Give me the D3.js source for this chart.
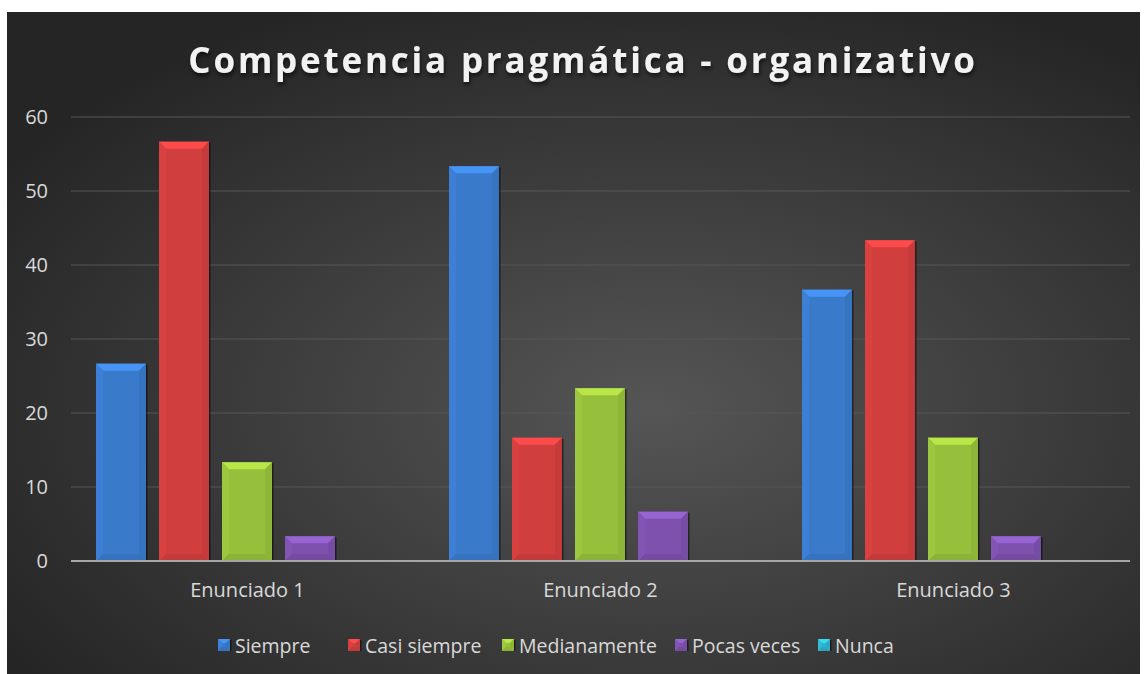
<!DOCTYPE html>
<html>
<head>
<meta charset="utf-8">
<script src="https://cdn.jsdelivr.net/npm/d3@7"></script>
<style>
  body { margin: 0; background: #fff; }
  svg { display: block; }
</style>
</head>
<body>
<svg id="chart" width="1145" height="674"></svg>
<script>
// chart data
const categories = ['Enunciado 1', 'Enunciado 2', 'Enunciado 3'];
const seriesNames = ['Siempre', 'Casi siempre', 'Medianamente', 'Pocas veces', 'Nunca'];
const siempre = [26.67, 53.33, 36.67];
const casiSiempre = [56.67, 16.67, 43.33];
const medianamente = [13.33, 23.33, 16.67];
const pocasVeces = [3.33, 6.67, 3.33];
const nunca = [0, 0, 0];
const yTicks = [0, 10, 20, 30, 40, 50, 60];

const seriesValues = [siempre, casiSiempre, medianamente, pocasVeces, nunca];
const colors = ['#3a7acb', '#d03e3e', '#96bf3b', '#7d51ad', '#2fb3cc'];

const box = { x: 7, y: 12, w: 1133, h: 662 };
const plot = { left: 71, right: 1130, top: 117, bottom: 561 };
const font = 'Open Sans, sans-serif';

const svg = d3.select('#chart');
const defs = svg.append('defs');

// background gradient
const bg = defs.append('radialGradient').attr('id', 'bg')
    .attr('cx', '57%').attr('cy', '60%').attr('r', '68%');
bg.append('stop').attr('offset', '0%').attr('stop-color', '#555');
bg.append('stop').attr('offset', '100%').attr('stop-color', '#252525');

const sh = defs.append('filter').attr('id', 'tshadow')
    .attr('x', '-5%').attr('y', '-20%').attr('width', '110%').attr('height', '150%');
sh.append('feDropShadow').attr('dx', 1).attr('dy', 3).attr('stdDeviation', 2)
    .attr('flood-color', '#000').attr('flood-opacity', 0.6);

svg.append('rect').attr('x', box.x).attr('y', box.y)
    .attr('width', box.w).attr('height', box.h).attr('fill', 'url(#bg)');

svg.append('text')
    .attr('x', 583).attr('y', 73)
    .attr('text-anchor', 'middle')
    .attr('font-family', font)
    .attr('font-weight', 'bold')
    .attr('font-size', 35)
    .attr('letter-spacing', 2.8)
    .attr('fill', '#f2f2f2')
    .attr('filter', 'url(#tshadow)')
    .text('Competencia pragmática - organizativo');

// scales
const x0 = d3.scaleBand().domain(categories).range([plot.left, plot.right]).padding(0);
const y = d3.scaleLinear().domain([0, 60]).range([plot.bottom, plot.top]);
const bandPad = 25, slot = 63, barW = 50;

// gridlines
svg.append('g').selectAll('line')
    .data(yTicks.filter(d => d > 0))
    .join('line')
    .attr('x1', plot.left).attr('x2', plot.right)
    .attr('y1', d => y(d)).attr('y2', d => y(d))
    .attr('stroke', '#575757').attr('stroke-width', 1.2);

// y axis labels
const yAxis = svg.append('g')
    .attr('transform', `translate(${plot.left - 23},0)`)
    .call(d3.axisLeft(y).tickValues(yTicks).tickSize(0).tickPadding(0));
yAxis.select('.domain').remove();
yAxis.selectAll('text')
    .attr('font-family', font)
    .attr('font-size', 20)
    .attr('fill', '#d9d9d9');

// bevel bars
function bevelBar(g, x, yTop, w, h, color, bev) {
    if (h <= 0) return;
    const b = Math.min(bev || 7, h / 2, w / 2);
    const c = d3.color(color);
    g.append('rect').attr('x', x + 1.5).attr('y', yTop + 1)
        .attr('width', w).attr('height', h - 1)
        .attr('fill', '#000').attr('opacity', 0.5);
    g.append('rect').attr('x', x).attr('y', yTop)
        .attr('width', w).attr('height', h).attr('fill', color);
    const x1 = x + w, y1 = yTop + h;
    const poly = (pts, fill) => g.append('polygon')
        .attr('points', pts.map(p => p.join(',')).join(' '))
        .attr('fill', fill);
    poly([[x, yTop], [x1, yTop], [x1 - b, yTop + b], [x + b, yTop + b]], c.brighter(0.55));
    poly([[x, yTop], [x + b, yTop + b], [x + b, y1 - b], [x, y1]], c.brighter(0.12));
    poly([[x1, yTop], [x1, y1], [x1 - b, y1 - b], [x1 - b, yTop + b]], c.darker(0.15));
    poly([[x, y1], [x + b, y1 - b], [x1 - b, y1 - b], [x1, y1]], c.darker(0.2));
}

const barsG = svg.append('g');
categories.forEach((cat, ci) => {
    seriesValues.forEach((vals, si) => {
        const v = vals[ci];
        const bx = x0(cat) + bandPad + si * slot;
        bevelBar(barsG, bx, y(v), barW, y(0) - y(v), colors[si]);
    });
});

// x axis
svg.append('line')
    .attr('x1', plot.left).attr('x2', plot.right)
    .attr('y1', y(0)).attr('y2', y(0))
    .attr('stroke', '#a6a6a6').attr('stroke-width', 2);

const xAxis = svg.append('g')
    .attr('transform', `translate(0,${y(0)})`)
    .call(d3.axisBottom(x0).tickSize(0).tickPadding(22));
xAxis.select('.domain').remove();
xAxis.selectAll('text')
    .attr('font-family', font)
    .attr('font-size', 20)
    .attr('fill', '#d9d9d9');

// legend
const legendX = [218, 348, 502, 675, 818];
const legend = svg.append('g');
seriesNames.forEach((name, i) => {
    const g = legend.append('g').attr('transform', `translate(${legendX[i]},639)`);
    bevelBar(g, 0, 0, 12, 12, colors[i], 4);
    g.append('text').attr('x', 17).attr('y', 14)
        .attr('font-family', font)
        .attr('font-size', 19.5)
        .attr('fill', '#d9d9d9')
        .text(name);
});
</script>
</body>
</html>
